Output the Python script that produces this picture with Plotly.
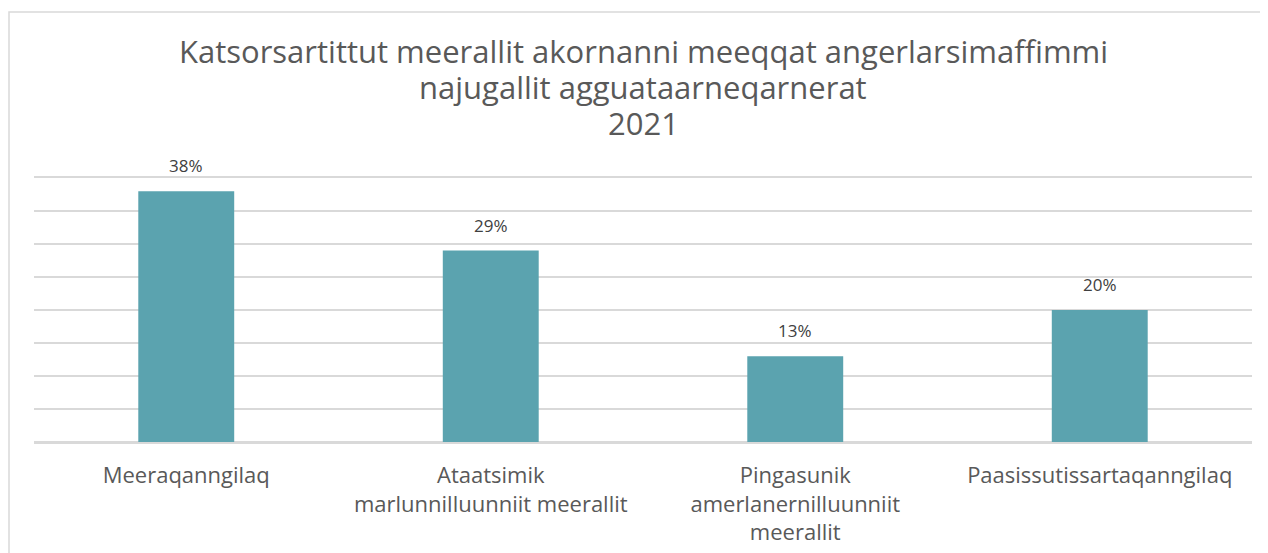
import plotly.graph_objects as go

categories = ['Meeraqanngilaq',
              'Ataatsimik<br>marlunnilluunniit meerallit',
              'Pingasunik<br>amerlanernilluunniit<br>meerallit',
              'Paasissutissartaqanngilaq']
shares = [38, 29, 13, 20]
title_lines = ['Katsorsartittut meerallit akornanni meeqqat angerlarsimaffimmi',
               'najugallit agguataarneqarnerat',
               '2021']

font_name = 'Open Sans, Noto Sans, sans-serif'
grey_text = '#595959'
grid_col = '#d9d9d9'

# page body has an 8px margin, so the figure is a bit smaller than the window
W, H = 1260, 545
left, right, top, bottom = 26, 16, 170, 111
plot_w = W - left - right
plot_h = H - top - bottom


def paper_y(px):
    # pixel row in the figure -> paper coordinate
    return (H - bottom - px) / plot_h


fig = go.Figure()
fig.add_trace(go.Bar(x=categories, y=shares, marker=dict(color='#5BA3AF', line=dict(width=0)),
                     width=0.315, hoverinfo='x+y'))

# value labels above the bars
for cat, val in zip(categories, shares):
    fig.add_annotation(x=cat, y=val, text=f'{val}%', showarrow=False, yanchor='bottom', yshift=12,
                       font=dict(size=17, color='#404040', family=font_name))

# title, one annotation per line (tighter line spacing than plotly's title)
for i, line in enumerate(title_lines):
    fig.add_annotation(x=0.5, xref='paper', y=paper_y(43 + 36 * i), yref='paper', text=line,
                       showarrow=False, xanchor='center', yanchor='middle',
                       font=dict(size=31, color=grey_text, family=font_name))

# outer chart border (light grey frame)
fig.add_shape(type='rect', xref='paper', yref='paper',
              x0=(1 - left) / plot_w, x1=(W + 10 - left) / plot_w,
              y0=paper_y(H + 10), y1=paper_y(4),
              line=dict(color=grid_col, width=1.5), fillcolor='rgba(0,0,0,0)', layer='below')

fig.update_layout(
    width=W, height=H,
    margin=dict(l=left, r=right, t=top, b=bottom, autoexpand=False),
    paper_bgcolor='white', plot_bgcolor='white',
    showlegend=False,
    font=dict(family=font_name, color=grey_text),
    xaxis=dict(tickfont=dict(size=22, color=grey_text), showgrid=False, ticks='',
               ticklabelstandoff=13, automargin=False,
               showline=True, mirror=True, linecolor=grid_col, linewidth=1.5),
    yaxis=dict(range=[0, 40], dtick=5, showticklabels=False, showgrid=True, gridcolor=grid_col,
               gridwidth=1.5, zeroline=True, zerolinecolor=grid_col, zerolinewidth=1.5,
               automargin=False),
)

fig.write_html('out.html')
